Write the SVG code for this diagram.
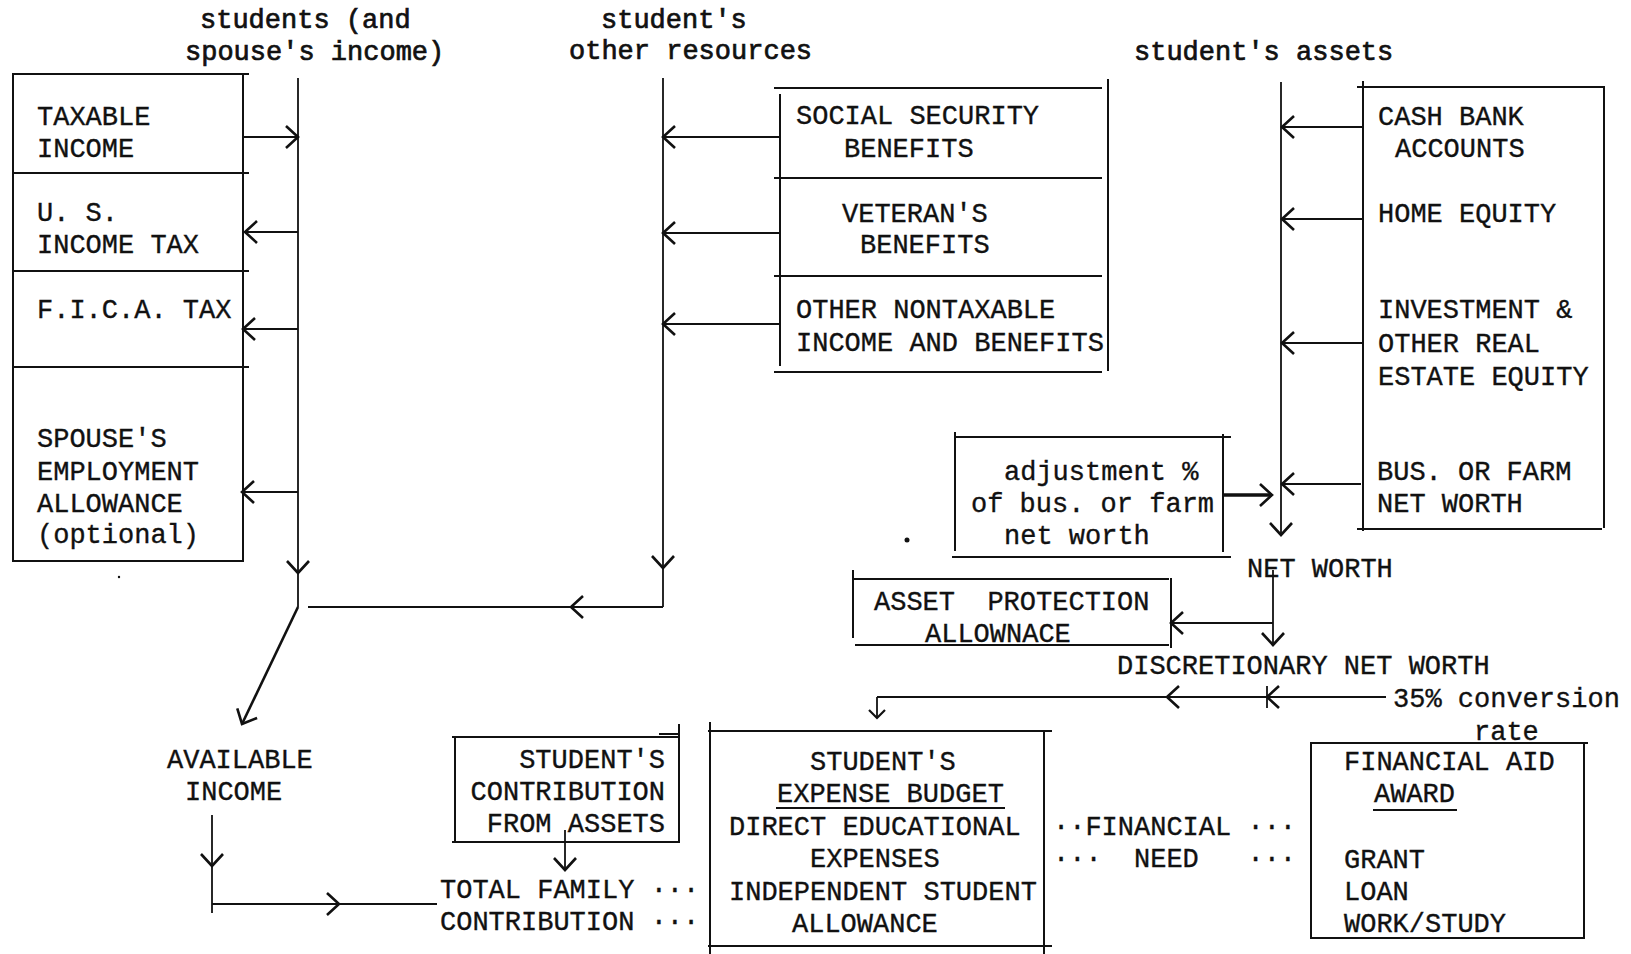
<svg xmlns="http://www.w3.org/2000/svg" width="1631" height="954" viewBox="0 0 1631 954">
<style>
  text { font-family: "Liberation Mono", "DejaVu Sans Mono", monospace; font-size: 27px; fill: #111; stroke: #111; stroke-width: 0.35; white-space: pre; }
  .hd { stroke-width: 0.7; }
  .ln { fill: none; stroke: #111; stroke-width: 2; stroke-linecap: square; }
  .cn { fill: none; stroke: #111; stroke-width: 1.8; }
  .diag { fill: none; stroke: #111; stroke-width: 2.6; }
  .thick { fill: none; stroke: #111; stroke-width: 3.5; }
  .dot { fill: #111; }
</style>
<defs>
  <marker id="arr" viewBox="0 0 16 26" refX="14" refY="13" markerWidth="16" markerHeight="26" markerUnits="userSpaceOnUse" orient="auto">
    <path d="M2,2 L14,13 L2,24" fill="none" stroke="#111" stroke-width="2.6"/>
  </marker>
  <marker id="arrS" viewBox="0 0 12 20" refX="10" refY="10" markerWidth="12" markerHeight="20" markerUnits="userSpaceOnUse" orient="auto">
    <path d="M2,2 L10,10 L2,18" fill="none" stroke="#111" stroke-width="2.2"/>
  </marker>
</defs>
<rect width="1631" height="954" fill="#fff"/>

<g id="headers">
  <text class="hd" x="200" y="28">students (and</text>
  <text class="hd" x="185" y="60">spouse's income)</text>
  <text class="hd" x="601" y="28">student's</text>
  <text class="hd" x="569" y="59">other resources</text>
  <text class="hd" x="1134" y="60">student's assets</text>
</g>

<g id="income-box">
  <path class="ln" d="M13,74 H248 M13,74 V561 M243,74 V561 M13,561 H243 M13,173 H248 M13,271 H248 M13,367 H248"/>
  <text x="37" y="125">TAXABLE</text>
  <text x="37" y="157">INCOME</text>
  <text x="37" y="221">U. S.</text>
  <text x="37" y="253">INCOME TAX</text>
  <text x="37" y="318">F.I.C.A. TAX</text>
  <text x="37" y="447">SPOUSE'S</text>
  <text x="37" y="480">EMPLOYMENT</text>
  <text x="37" y="512">ALLOWANCE</text>
  <text x="37" y="543">(optional)</text>
</g>

<g id="other-resources-box">
  <path class="ln" d="M775,88 H1101 M780,95 V365 M1108,80 V370 M775,178 H1101 M775,276 H1101 M775,372 H1101"/>
  <text x="796" y="124">SOCIAL SECURITY</text>
  <text x="844" y="157">BENEFITS</text>
  <text x="842" y="222">VETERAN'S</text>
  <text x="860" y="253">BENEFITS</text>
  <text x="796" y="318">OTHER NONTAXABLE</text>
  <text x="796" y="351">INCOME AND BENEFITS</text>
</g>

<g id="assets-box">
  <path class="ln" d="M1358,87 H1603 M1363,82 V530 M1604,87 V527 M1358,529 H1601"/>
  <text x="1378" y="125">CASH BANK</text>
  <text x="1395" y="157">ACCOUNTS</text>
  <text x="1378" y="222">HOME EQUITY</text>
  <text x="1378" y="318">INVESTMENT &amp;</text>
  <text x="1378" y="352">OTHER REAL</text>
  <text x="1378" y="385">ESTATE EQUITY</text>
  <text x="1377" y="480">BUS. OR FARM</text>
  <text x="1377" y="512">NET WORTH</text>
</g>

<g id="adjustment-box">
  <path class="ln" d="M955,437 H1230 M955,433 V550 M1223,435 V551 M953,557 H1230"/>
  <text x="1004" y="480">adjustment %</text>
  <text x="971" y="512">of bus. or farm</text>
  <text x="1004" y="544">net worth</text>
</g>

<g id="net-worth">
  <text x="1247" y="577">NET WORTH</text>
</g>

<g id="asset-protection-box">
  <path class="ln" d="M853,571 V637 M853,579 H1168 M1171,579 V647 M856,645 H1168"/>
  <text x="874" y="610" xml:space="preserve">ASSET  PROTECTION</text>
  <text x="925" y="642">ALLOWNACE</text>
</g>

<g id="discretionary-net-worth">
  <text x="1117" y="674">DISCRETIONARY NET WORTH</text>
</g>

<g id="conversion-rate">
  <text x="1393" y="707">35% conversion</text>
  <text x="1474" y="740">rate</text>
</g>

<g id="available-income">
  <text x="167" y="768">AVAILABLE</text>
  <text x="185" y="800">INCOME</text>
</g>

<g id="contribution-box">
  <path class="ln" d="M453,737 H679 M455,737 V840 M679,725 V840 M453,842 H679 M660,734 H679"/>
  <text x="665" y="768" text-anchor="end">STUDENT'S</text>
  <text x="665" y="800" text-anchor="end">CONTRIBUTION</text>
  <text x="665" y="832" text-anchor="end">FROM ASSETS</text>
</g>

<g id="total-family-contribution">
  <text x="440" y="898">TOTAL FAMILY ···</text>
  <text x="440" y="930">CONTRIBUTION ···</text>
</g>

<g id="expense-budget-box">
  <path class="ln" d="M709,731 H1051 M710,723 V954 M1044,731 V954 M709,946 H1051"/>
  <text x="810" y="770">STUDENT'S</text>
  <text x="777" y="802">EXPENSE BUDGET</text>
  <path class="ln" d="M777,808 H1004"/>
  <text x="729" y="835">DIRECT EDUCATIONAL</text>
  <text x="810" y="867">EXPENSES</text>
  <text x="729" y="900">INDEPENDENT STUDENT</text>
  <text x="792" y="932">ALLOWANCE</text>
</g>

<g id="financial-need">
  <text x="1053" y="835">··FINANCIAL ···</text>
  <text x="1053" y="867" xml:space="preserve">···  NEED   ···</text>
</g>

<g id="financial-aid-box">
  <path class="ln" d="M1311,743 H1587 M1311,743 V938 M1584,745 V938 M1311,938 H1584"/>
  <text x="1344" y="770">FINANCIAL AID</text>
  <text x="1374" y="802">AWARD</text>
  <path class="ln" d="M1374,810 H1456"/>
  <text x="1344" y="868">GRANT</text>
  <text x="1344" y="900">LOAN</text>
  <text x="1344" y="932">WORK/STUDY</text>
</g>

<g id="connectors">
  <!-- students income line -->
  <path class="cn" d="M298,78 V573" marker-end="url(#arr)"/>
  <path class="cn" d="M298,573 V607"/>
  <path class="diag" d="M298,607 L242,724" marker-end="url(#arr)"/>
  <path class="cn" d="M243,137 H298" marker-end="url(#arr)"/>
  <path class="cn" d="M298,232 H245" marker-end="url(#arr)"/>
  <path class="cn" d="M298,329 H243" marker-end="url(#arr)"/>
  <path class="cn" d="M298,492 H242" marker-end="url(#arr)"/>
  <!-- other resources line -->
  <path class="cn" d="M663,78 V568" marker-end="url(#arr)"/>
  <path class="cn" d="M663,568 V607"/>
  <path class="cn" d="M663,607 H571" marker-end="url(#arr)"/>
  <path class="cn" d="M571,607 H308"/>
  <path class="cn" d="M780,137 H663" marker-end="url(#arr)"/>
  <path class="cn" d="M780,233 H663" marker-end="url(#arr)"/>
  <path class="cn" d="M780,324 H663" marker-end="url(#arr)"/>
  <!-- assets line -->
  <path class="cn" d="M1281,82 V535" marker-end="url(#arr)"/>
  <path class="cn" d="M1363,127 H1282" marker-end="url(#arr)"/>
  <path class="cn" d="M1363,219 H1282" marker-end="url(#arr)"/>
  <path class="cn" d="M1363,343 H1282" marker-end="url(#arr)"/>
  <path class="cn" d="M1361,484 H1282" marker-end="url(#arr)"/>
  <path class="thick" d="M1223,495 H1272" marker-end="url(#arr)"/>
  <!-- net worth -->
  <path class="cn" d="M1273,570 V645" marker-end="url(#arr)"/>
  <path class="cn" d="M1273,623 H1171" marker-end="url(#arr)"/>
  <!-- conversion -->
  <path class="cn" d="M1386,697 H1267" marker-end="url(#arr)"/>
  <path class="cn" d="M1267,686 V708"/>
  <path class="cn" d="M1267,697 H1167" marker-end="url(#arr)"/>
  <path class="cn" d="M1167,697 H877"/>
  <path class="cn" d="M877,697 V718" marker-end="url(#arrS)"/>
  <!-- available income -->
  <path class="cn" d="M212,815 V866" marker-end="url(#arr)"/>
  <path class="cn" d="M212,866 V913"/>
  <path class="cn" d="M212,904 H339" marker-end="url(#arr)"/>
  <path class="cn" d="M339,904 H437"/>
  <!-- contribution from assets -->
  <path class="cn" d="M565,830 V870" marker-end="url(#arr)"/>
</g>

<g id="specks">
  <circle class="dot" cx="907" cy="540" r="2.5"/>
  <circle class="dot" cx="119" cy="577" r="1.2"/>
</g>
</svg>
